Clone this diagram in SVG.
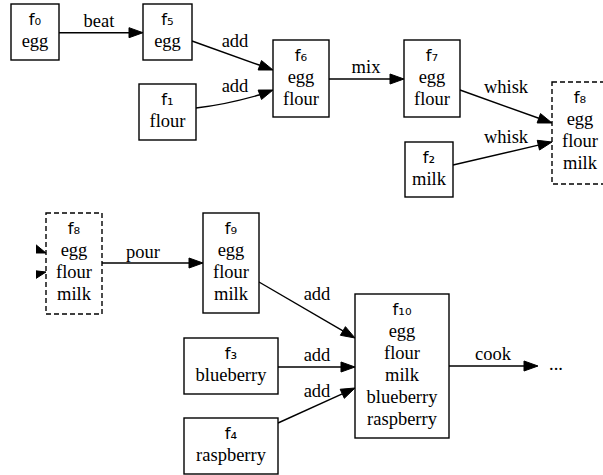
<svg xmlns="http://www.w3.org/2000/svg" width="603" height="475" viewBox="0 0 603 475">
<style>
  .box { fill: #ffffff; stroke: #000000; stroke-width: 1.4; }
  .dash { fill: #ffffff; stroke: #000000; stroke-width: 1.4; stroke-dasharray: 5,3; }
  .t { font-family: 'Liberation Serif', 'Times New Roman', 'DejaVu Serif', serif; font-size: 18.5px; fill: #000; text-anchor: middle; }
  .f { font-family: 'DejaVu Sans', sans-serif; font-size: 16.5px; fill: #000; text-anchor: middle; }
  .e { fill: none; stroke: #000; stroke-width: 1.4; }
  .h { fill: #000; stroke: #000; stroke-width: 1; }
</style>
<defs>
  <clipPath id="stubclip"><rect x="36" y="230" width="14" height="60"/></clipPath>
</defs>
<rect x="0" y="0" width="603" height="475" fill="#ffffff"/>

<g id="connectors">
  <path class="e" d="M59,32.7 L129,32.7"/>
  <polygon class="h" points="129,27.7 143,32.7 129,37.7"/>
  <text class="t" x="99" y="27" font-family="Liberation Serif, serif">beat</text>

  <path class="e" d="M192,41 L259.82,65.28"/>
  <polygon class="h" points="258.13,69.99 273,70 261.51,60.57"/>
  <text class="t" x="235" y="47">add</text>

  <path class="e" d="M196,108 C218,105.5 240,100.5 259.84,94.76"/>
  <polygon class="h" points="261.54,99.46 273,90 258.14,90.06"/>
  <text class="t" x="235" y="92">add</text>

  <path class="e" d="M329,79 L390,79"/>
  <polygon class="h" points="390,74 404,79 390,84"/>
  <text class="t" x="366" y="73">mix</text>

  <path class="e" d="M460,90 L538.82,118.27"/>
  <polygon class="h" points="537.13,122.98 552,123 540.51,113.56"/>
  <text class="t" x="506" y="93">whisk</text>

  <path class="e" d="M453,165 L538.36,145.17"/>
  <polygon class="h" points="539.49,150.04 552,142 537.23,140.3"/>
  <text class="t" x="506" y="143">whisk</text>

  <g clip-path="url(#stubclip)">
    <polygon class="h" points="31.13,252.98 46,253 34.51,243.56"/>
    <polygon class="h" points="33.49,280.04 46,272 31.23,270.3"/>
  </g>

  <path class="e" d="M102,263 L189,263"/>
  <polygon class="h" points="189,258 203,263 189,268"/>
  <text class="t" x="143" y="258">pour</text>

  <path class="e" d="M259,282 L342.91,330.95"/>
  <polygon class="h" points="340.39,335.27 355,338 345.43,326.63"/>
  <text class="t" x="317" y="300">add</text>

  <path class="e" d="M278,367 L341,367"/>
  <polygon class="h" points="341,362 355,367 341,372"/>
  <text class="t" x="317" y="361">add</text>

  <path class="e" d="M278,423 L342.25,393.79"/>
  <polygon class="h" points="344.32,398.34 355,388 340.18,389.24"/>
  <text class="t" x="317" y="397">add</text>

  <path class="e" d="M449,366 L524,366"/>
  <polygon class="h" points="524,361 538,366 524,371"/>
  <text class="t" x="493" y="360">cook</text>
  <text class="t" x="556" y="370">...</text>
</g>

<g id="f0">
  <rect class="box" x="11" y="4" width="48" height="56"/>
  <text class="f" x="35" y="25">f₀</text>
  <text class="t" x="35" y="47">egg</text>
</g>
<g id="f5">
  <rect class="box" x="143" y="4" width="49" height="56"/>
  <text class="f" x="167.5" y="25">f₅</text>
  <text class="t" x="167.5" y="47">egg</text>
</g>
<g id="f1">
  <rect class="box" x="139" y="84" width="57" height="56"/>
  <text class="f" x="167.5" y="105">f₁</text>
  <text class="t" x="167.5" y="127">flour</text>
</g>
<g id="f6">
  <rect class="box" x="273" y="40" width="56" height="77"/>
  <text class="f" x="301" y="61">f₆</text>
  <text class="t" x="301" y="83">egg</text>
  <text class="t" x="301" y="105">flour</text>
</g>
<g id="f7">
  <rect class="box" x="404" y="40" width="56" height="77"/>
  <text class="f" x="432" y="61">f₇</text>
  <text class="t" x="432" y="83">egg</text>
  <text class="t" x="432" y="105">flour</text>
</g>
<g id="f2">
  <rect class="box" x="405" y="142" width="48" height="55"/>
  <text class="f" x="429" y="163">f₂</text>
  <text class="t" x="429" y="185">milk</text>
</g>
<g id="f8-top">
  <rect class="dash" x="552" y="82" width="56" height="102"/>
  <text class="f" x="580" y="103">f₈</text>
  <text class="t" x="580" y="125">egg</text>
  <text class="t" x="580" y="147">flour</text>
  <text class="t" x="580" y="169">milk</text>
</g>
<g id="f8-bottom">
  <rect class="dash" x="46" y="213" width="56" height="101"/>
  <text class="f" x="74" y="234">f₈</text>
  <text class="t" x="74" y="256">egg</text>
  <text class="t" x="74" y="278">flour</text>
  <text class="t" x="74" y="300">milk</text>
</g>
<g id="f9">
  <rect class="box" x="203" y="213" width="56" height="100"/>
  <text class="f" x="231" y="234">f₉</text>
  <text class="t" x="231" y="256">egg</text>
  <text class="t" x="231" y="278">flour</text>
  <text class="t" x="231" y="300">milk</text>
</g>
<g id="f3">
  <rect class="box" x="184" y="338" width="94" height="56"/>
  <text class="f" x="231" y="359">f₃</text>
  <text class="t" x="231" y="381">blueberry</text>
</g>
<g id="f4">
  <rect class="box" x="184" y="418" width="94" height="56"/>
  <text class="f" x="231" y="439">f₄</text>
  <text class="t" x="231" y="461">raspberry</text>
</g>
<g id="f10">
  <rect class="box" x="355" y="294" width="94" height="144"/>
  <text class="f" x="402" y="315">f₁₀</text>
  <text class="t" x="402" y="337">egg</text>
  <text class="t" x="402" y="359">flour</text>
  <text class="t" x="402" y="381">milk</text>
  <text class="t" x="402" y="403">blueberry</text>
  <text class="t" x="402" y="425">raspberry</text>
</g>
</svg>
